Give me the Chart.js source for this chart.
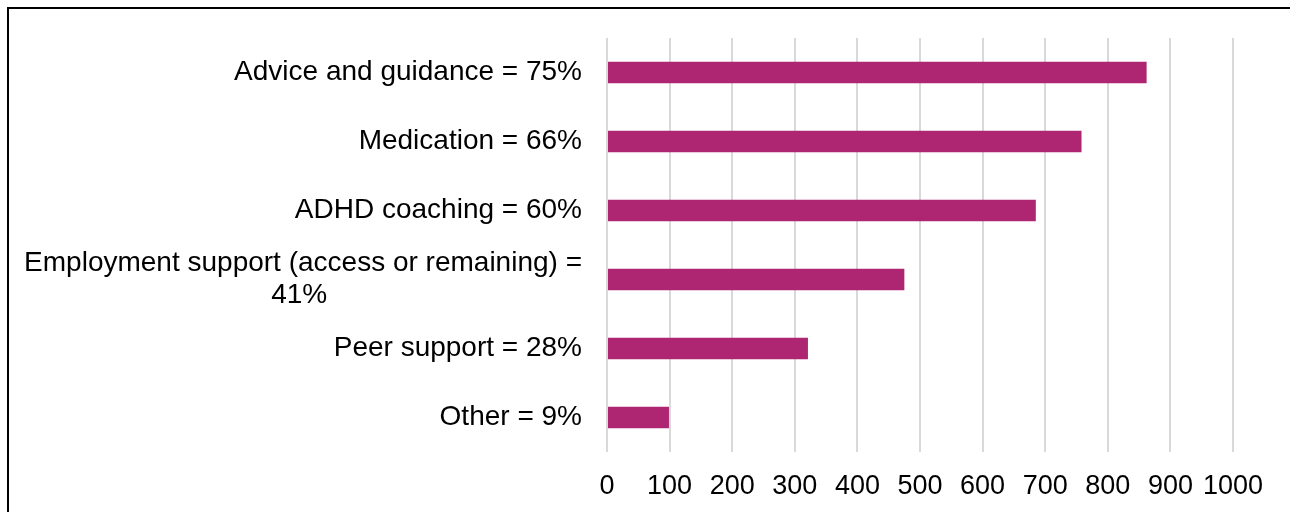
<!DOCTYPE html>
<html>
<head>
<meta charset="utf-8">
<script src="https://cdn.jsdelivr.net/npm/chart.js@4/dist/chart.umd.min.js"></script>
<style>
  html, body { margin: 0; padding: 0; background: #fff; }
  #wrap { position: relative; width: 1290px; height: 512px; overflow: hidden; }
  #frame { position: absolute; left: 7px; top: 7px; width: 1300px; height: 520px;
           border-top: 2px solid #000; border-left: 2px solid #000; }
  #myChart { position: absolute; left: 0; top: 0; }
</style>
</head>
<body>
<div id="wrap">
  <div id="frame"></div>
  <canvas id="myChart" width="1290" height="512"></canvas>
</div>
<script>
// support types, wrapped where the label runs long
const categories = [
  ['Advice and guidance = 75%'],
  ['Medication = 66%'],
  ['ADHD coaching = 60%'],
  ['Employment support (access or remaining) =', '41%'],
  ['Peer support = 28%'],
  ['Other = 9%']
];
const responses = [862, 758, 685, 475, 321, 99];
const axisMax = 1000;
const axisStep = 100;

const barColor = '#ae2572';
const fontFamily = 'Arial, "Liberation Sans", sans-serif';
const labelSize = 28;
const tickSize = 27;

// category labels right-aligned against the plot; wrapped lines
// are centred under the first line (which keeps its trailing space)
const labelPlugin = {
  id: 'sideLabels',
  afterDraw(chart) {
    const ctx = chart.ctx;
    const yScale = chart.scales.y;
    const right = chart.chartArea.left - 25;
    const lineH = 32;
    ctx.save();
    ctx.font = labelSize + 'px ' + fontFamily;
    ctx.fillStyle = '#000';
    ctx.textBaseline = 'middle';
    categories.forEach((lines, i) => {
      const yc = yScale.getPixelForValue(i);
      const y0 = yc - (lines.length - 1) * lineH / 2;
      ctx.textAlign = 'right';
      ctx.fillText(lines[0], right, y0);
      if (lines.length > 1) {
        const w = ctx.measureText(lines[0] + ' ').width;
        const cx = right - w / 2;
        ctx.textAlign = 'center';
        for (let j = 1; j < lines.length; j++) {
          ctx.fillText(lines[j], cx, y0 + j * lineH);
        }
      }
    });
    ctx.restore();
  }
};

new Chart('myChart', {
  type: 'bar',
  data: {
    labels: categories.map(c => c.join(' ')),
    datasets: [{
      data: responses,
      backgroundColor: barColor,
      borderWidth: 0,
      barPercentage: 0.31,
      categoryPercentage: 1
    }]
  },
  options: {
    indexAxis: 'y',
    responsive: false,
    animation: false,
    layout: { padding: { left: 607, right: 57, top: 38, bottom: 0 } },
    plugins: { legend: { display: false }, tooltip: { enabled: false } },
    scales: {
      x: {
        min: 0,
        max: axisMax,
        ticks: {
          stepSize: axisStep,
          autoSkip: false,
          maxRotation: 0,
          minRotation: 0,
          color: '#000',
          padding: 18,
          font: { family: fontFamily, size: tickSize },
          callback: v => String(v)
        },
        grid: { color: '#d9d9d9', lineWidth: 2, drawTicks: false },
        border: { display: false },
        afterFit(scale) { scale.height = 60; }
      },
      y: {
        ticks: { display: false },
        grid: { display: false },
        border: { display: false },
        afterFit(scale) { scale.width = 0; }
      }
    }
  },
  plugins: [labelPlugin]
});
</script>
</body>
</html>
